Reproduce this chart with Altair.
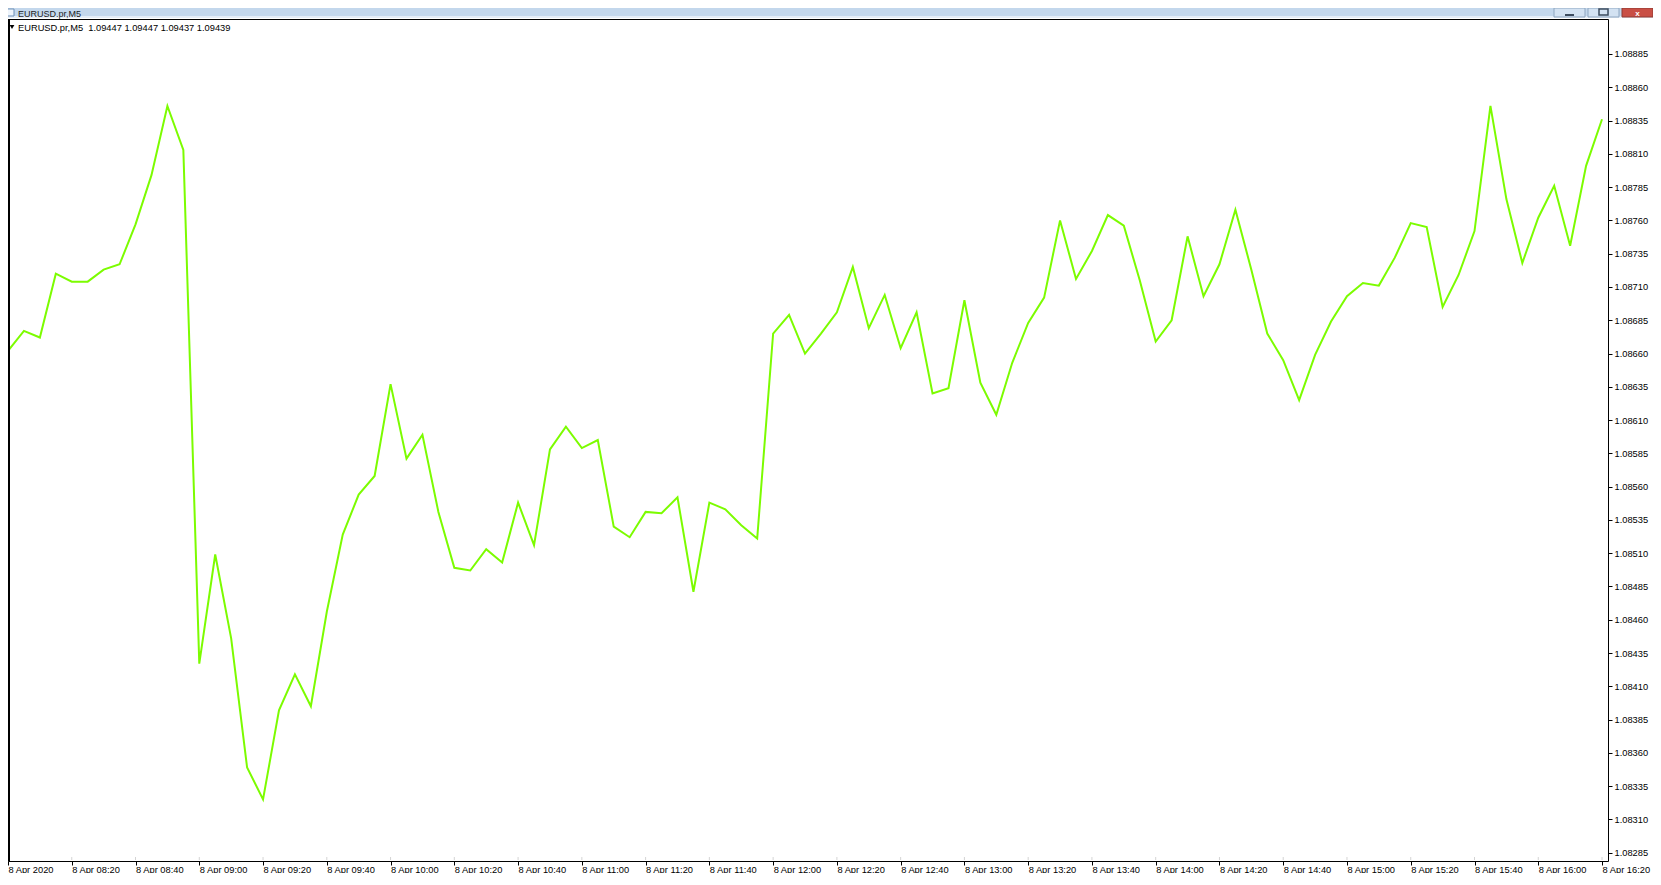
import altair as alt
import pandas as pd

# ---- data (EURUSD M5 close, 8 Apr 2020 08:00 .. 16:20) ----
prices = [
    1.08662, 1.08677, 1.08672, 1.08720, 1.08714, 1.08714, 1.08723, 1.08727, 1.08757, 1.08794,
    1.08846, 1.08813, 1.08427, 1.08509, 1.08446, 1.08349, 1.08325, 1.08392, 1.08419, 1.08395,
    1.08466, 1.08524, 1.08554, 1.08568, 1.08637, 1.08581, 1.08599, 1.08541, 1.08499, 1.08497,
    1.08513, 1.08503, 1.08548, 1.08516, 1.08588, 1.08605, 1.08589, 1.08595, 1.08530, 1.08522,
    1.08541, 1.08540, 1.08552, 1.08481, 1.08548, 1.08543, 1.08531, 1.08521, 1.08675, 1.08689,
    1.08660, 1.08675, 1.08691, 1.08725, 1.08679, 1.08704, 1.08664, 1.08691, 1.08630, 1.08634,
    1.08700, 1.08638, 1.08614, 1.08653, 1.08683, 1.08702, 1.08760, 1.08716, 1.08737, 1.08764,
    1.08756, 1.08715, 1.08669, 1.08685, 1.08748, 1.08703, 1.08727, 1.08768, 1.08723, 1.08675,
    1.08655, 1.08625, 1.08659, 1.08684, 1.08703, 1.08713, 1.08711, 1.08732, 1.08758, 1.08755,
    1.08695, 1.08719, 1.08752, 1.08846, 1.08776, 1.08728, 1.08762, 1.08786, 1.08741, 1.08801,
    1.08836,
]
bar_index = list(range(len(prices)))

x_tick_values = [0, 4, 8, 12, 16, 20, 24, 28, 32, 36, 40, 44, 48, 52, 56, 60, 64, 68, 72, 76,
                 80, 84, 88, 92, 96, 100]
x_tick_labels = ["8 Apr 2020", "8 Apr 08:20", "8 Apr 08:40", "8 Apr 09:00", "8 Apr 09:20",
                 "8 Apr 09:40", "8 Apr 10:00", "8 Apr 10:20", "8 Apr 10:40", "8 Apr 11:00",
                 "8 Apr 11:20", "8 Apr 11:40", "8 Apr 12:00", "8 Apr 12:20", "8 Apr 12:40",
                 "8 Apr 13:00", "8 Apr 13:20", "8 Apr 13:40", "8 Apr 14:00", "8 Apr 14:20",
                 "8 Apr 14:40", "8 Apr 15:00", "8 Apr 15:20", "8 Apr 15:40", "8 Apr 16:00",
                 "8 Apr 16:20"]
y_tick_values = [1.08285, 1.08310, 1.08335, 1.08360, 1.08385, 1.08410, 1.08435, 1.08460,
                 1.08485, 1.08510, 1.08535, 1.08560, 1.08585, 1.08610, 1.08635, 1.08660,
                 1.08685, 1.08710, 1.08735, 1.08760, 1.08785, 1.08810, 1.08835, 1.08860,
                 1.08885]

window_title = "EURUSD.pr,M5"
header_text = "EURUSD.pr,M5\u00a0 1.09447 1.09447 1.09437 1.09439"

FONT = "Liberation Sans"
W, H = 1600, 842

df = pd.DataFrame({"bar": bar_index, "price": prices})
ticks_df = pd.DataFrame({"bar": x_tick_values})
one = pd.DataFrame({"k": [0]})

label_lookup = "[" + ",".join("'" + s + "'" for s in x_tick_labels) + "][round(datum.value / 4)]"

x_scale = alt.Scale(domain=[0, 100.375], nice=False, zero=False)
y_scale = alt.Scale(domain=[1.0827876, 1.0891129], nice=False, zero=False)

x_axis = alt.Axis(
    values=x_tick_values, labelExpr=label_lookup, title=None, grid=False, domain=False,
    ticks=True, tickColor="black", tickSize=4, tickWidth=1,
    labelAlign="left", labelBaseline="alphabetic", labelPadding=7,
    labelFont=FONT, labelFontSize=9.3, labelColor="black",
    labelOverlap=False, labelFlush=False, labelBound=False,
)
y_axis = alt.Axis(
    orient="right", values=y_tick_values, format=".5f", title=None, grid=False, domain=False,
    ticks=True, tickColor="black", tickSize=4, tickWidth=1,
    labelPadding=2, labelFont=FONT, labelFontSize=9.3, labelColor="black",
    labelOverlap=False, labelFlush=False, labelBound=False, labelBaseline="middle",
)

line = alt.Chart(df).mark_line(color="#7CFC00", strokeWidth=2).encode(
    x=alt.X("bar:Q", scale=x_scale, axis=x_axis),
    y=alt.Y("price:Q", scale=y_scale, axis=y_axis),
)

inner_ticks = alt.Chart(ticks_df).mark_rule(color="#d4d4d4", strokeWidth=1).encode(
    x=alt.X("bar:Q", scale=x_scale, axis=x_axis),
    y=alt.value(H - 4), y2=alt.value(H - 1),
)

def box(x1, x2, y1, y2, **kw):
    return alt.Chart(one).mark_rect(**kw).encode(
        x=alt.value(x1), x2=alt.value(x2), y=alt.value(y1), y2=alt.value(y2))

# window title bar and buttons (above the plot, in the padding)
title_bar = box(0, 1645, -11, -3, color="#c3d7ec")
title_strip = box(0, 1645, -3, -1, color="#e4edf7")
btn_min = box(1546, 1577, -11, -2, fill="#d3e2f2", stroke="#8ea6c0", strokeWidth=1)
btn_max = box(1580, 1611, -11, -2, fill="#d3e2f2", stroke="#8ea6c0", strokeWidth=1)
btn_close = box(1614, 1645, -11, -2, fill="#c94f45", stroke="#8e3a33", strokeWidth=1)
min_glyph = box(1557, 1566, -5, -3, color="#3d4c5f")
max_glyph = box(1591, 1600, -10, -4, fill="none", stroke="#3d4c5f", strokeWidth=1.5)
close_glyph = alt.Chart(one).mark_text(
    text="x", font=FONT, fontSize=8, fontWeight="bold", color="white", align="center",
    baseline="alphabetic").encode(x=alt.value(1629.5), y=alt.value(-3))
icon = box(-6, 6, -10, -3, fill="#eef4fb", stroke="#6d8fb6", strokeWidth=1)
title_text = alt.Chart(one).mark_text(
    text=window_title, font=FONT, fontSize=9, color="#1e1e1e", align="left",
    baseline="alphabetic").encode(x=alt.value(10), y=alt.value(-2.5))

left_border = box(0, 2, 0, H, color="black")

triangle = alt.Chart(one).mark_point(
    shape="triangle-down", filled=True, color="black", size=22, opacity=1).encode(
    x=alt.value(4), y=alt.value(8))
header = alt.Chart(one).mark_text(
    text=header_text, font=FONT, fontSize=9.3, color="black", align="left",
    baseline="alphabetic").encode(x=alt.value(10), y=alt.value(12))

chart = alt.layer(
    title_bar, title_strip, btn_min, btn_max, btn_close, min_glyph, max_glyph, close_glyph,
    icon, title_text, inner_ticks, line, left_border, triangle, header,
).properties(
    width=W, height=H,
    autosize=alt.AutoSizeParams(type="none"),
    padding={"left": 0, "top": 11, "right": 45, "bottom": 12},
    background="white",
).configure_view(stroke="black", strokeWidth=1)

chart.save("out.html", embed_options={"renderer": "svg", "actions": False})
